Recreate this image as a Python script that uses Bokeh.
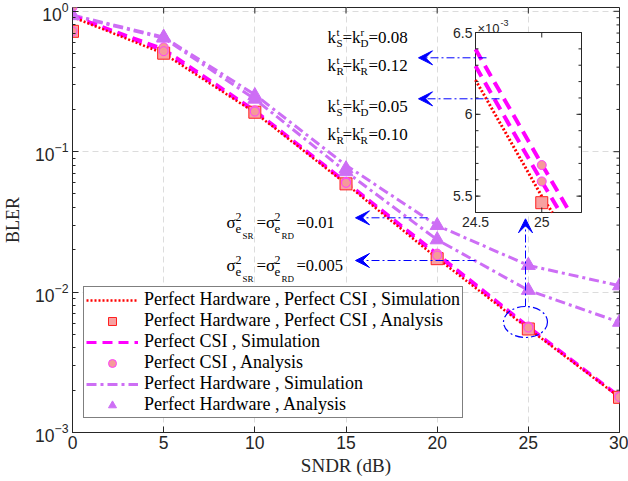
import math
from bokeh.plotting import figure
from bokeh.models import (FixedTicker, Legend, LegendItem, Label, Arrow, VeeHead,
                          Range1d, LinearScale)
from bokeh.embed import file_html
from bokeh.resources import INLINE

# ---------------- data ----------------
snr = [0, 5, 10, 15, 20, 25, 30]
x_ticks = [0, 5, 10, 15, 20, 25, 30]
y_ticks = [1e-3, 1e-2, 1e-1, 1]

sim_ph_pcsi = [0.91, 0.50, 0.19, 0.059, 0.0174, 0.0055, 0.00178]
ana_ph_pcsi = [0.72, 0.503, 0.191, 0.059, 0.0173, 0.00546, 0.00178]

sim_pcsi_k08 = [0.93, 0.54, 0.197, 0.061, 0.0188, 0.005695, 0.00181]
sim_pcsi_k05 = [0.92, 0.52, 0.193, 0.060, 0.0182, 0.00559, 0.00179]
ana_pcsi_k08 = [1.07, 0.555, 0.197, 0.061, 0.0188, 0.00569, 0.00181]
ana_pcsi_k05 = [0.72, 0.52, 0.193, 0.060, 0.0182, 0.00559, 0.00179]

sim_ph_s01 = [0.94, 0.655, 0.255, 0.080, 0.0298, 0.0155, 0.0111]
sim_ph_s005 = [0.93, 0.645, 0.237, 0.072, 0.0236, 0.0103, 0.0061]
ana_ph_s01 = [0.933, 0.654, 0.251, 0.0756, 0.0298, 0.0155, 0.0111]
ana_ph_s005 = [0.933, 0.645, 0.237, 0.072, 0.0236, 0.0103, 0.0061]

# zoomed-in (inset) simulation around 25 dB
snr_zoom = [24, 25, 26]
zoom_ph_pcsi = [6.92e-3, 5.50e-3, 4.25e-3]
zoom_pcsi_k08 = [7.10e-3, 5.695e-3, 4.31e-3]
zoom_pcsi_k05 = [7.00e-3, 5.59e-3, 4.23e-3]
inset_x_range = (24.5, 25.3)
inset_y_range = (5.4e-3, 6.5e-3)
inset_x_ticks = [24.5, 25]
inset_y_ticks = [5.5e-3, 6.0e-3, 6.5e-3]

labels = ["Perfect Hardware , Perfect CSI , Simulation",
          "Perfect Hardware , Perfect CSI , Analysis",
          "Perfect CSI , Simulation",
          "Perfect CSI , Analysis",
          "Perfect Hardware , Simulation",
          "Perfect Hardware , Analysis"]

# ---------------- styles ----------------
RED = "#FF0000"
MAG = "#FF00FF"
PUR = "#CD6EF5"
SQ_FILL = "#F7A1A1"
CI_FILL = "#F59A9A"
BLUE = "#0000FF"
AX = "#262626"
SERIF = "Liberation Serif"
SANS = "Liberation Sans"

W, H = 628, 481
FL, FR, FT, FB = 72, 619, 7, 432          # frame edges in page px
Y_TOP = 10 ** ((FB - FT) / 140.4 - 3)      # 140.4 px per decade
p = figure(width=W, height=H, x_range=(0, 30), y_range=(1e-3, Y_TOP), y_axis_type="log",
           output_backend="svg", toolbar_location=None,
           min_border_left=FL, min_border_right=W - FR, min_border_top=FT, min_border_bottom=H - FB)
p.background_fill_color = "white"
p.border_fill_color = "white"
p.outline_line_color = AX

LMIN, LMAX = math.log10(1e-3), math.log10(Y_TOP)


def dx(px):
    return (px - FL) / (FR - FL) * 30


def dy(py):
    return 10 ** (LMIN + (FB - py) / (FB - FT) * (LMAX - LMIN))


xticker = FixedTicker(ticks=x_ticks, minor_ticks=[])
yminor = [m * 10.0 ** e for e in (-3, -2, -1) for m in range(2, 10)]
yticker = FixedTicker(ticks=y_ticks, minor_ticks=yminor)

p.xaxis.ticker = xticker
p.yaxis.ticker = yticker
for ax in (p.xaxis[0], p.yaxis[0]):
    ax.axis_line_color = AX
    ax.major_tick_line_color = AX
    ax.minor_tick_line_color = AX
    ax.major_tick_in = 6
    ax.major_tick_out = 0
    ax.minor_tick_in = 3
    ax.minor_tick_out = 0
    ax.major_label_text_font = SANS
    ax.major_label_text_font_size = "17.5px"
    ax.major_label_text_color = AX
    ax.axis_label_text_font = SERIF
    ax.axis_label_text_font_style = "normal"
    ax.axis_label_text_color = AX
p.xaxis.minor_tick_line_color = None
p.xaxis.axis_label = "SNDR (dB)"
p.xaxis.axis_label_text_font_size = "19px"
p.xaxis.major_label_standoff = 3
p.xaxis.axis_label_standoff = 3
p.yaxis.axis_label = "BLER"
p.yaxis.axis_label_text_font_size = "18px"
p.yaxis.major_label_standoff = 4
p.yaxis.axis_label_standoff = 9

p.xgrid.ticker = xticker
p.ygrid.ticker = yticker
for g in (p.xgrid[0], p.ygrid[0]):
    g.grid_line_color = "#DCDCDC"
    g.grid_line_dash = "6 4"
    g.grid_line_width = 1

# box ticks on the top and right edges
tx = 6 * 30 / (FR - FL)
p.segment(x0=x_ticks, y0=[Y_TOP] * len(x_ticks), x1=x_ticks, y1=[dy(FT + 6)] * len(x_ticks),
          line_color=AX, line_width=1)
p.segment(x0=[30] * len(y_ticks), y0=y_ticks, x1=[30 - tx] * len(y_ticks), y1=y_ticks,
          line_color=AX, line_width=1)
p.segment(x0=[30] * len(yminor), y0=yminor, x1=[30 - tx / 2] * len(yminor), y1=yminor,
          line_color=AX, line_width=1)

# ---------------- series ----------------
r_pur1 = p.line(snr, sim_ph_s01, line_color=PUR, line_width=3, line_dash="10 4 3 4")
r_pur2 = p.line(snr, sim_ph_s005, line_color=PUR, line_width=3, line_dash="10 4 3 4")
r_mag1 = p.line(snr, sim_pcsi_k08, line_color=MAG, line_width=3, line_dash="10 6")
r_mag2 = p.line(snr, sim_pcsi_k05, line_color=MAG, line_width=3, line_dash="10 6")
r_red = p.line(snr, sim_ph_pcsi, line_color=RED, line_width=2.5, line_dash="2 2")

r_sq = p.scatter(snr, ana_ph_pcsi, marker="square", size=12, fill_color=SQ_FILL, line_color="#FF2020", line_width=1)
r_ci1 = p.scatter(snr, ana_pcsi_k08, marker="circle", size=9, fill_color=CI_FILL, line_color="#FF40FF", line_width=1)
r_ci2 = p.scatter(snr, ana_pcsi_k05, marker="circle", size=9, fill_color=CI_FILL, line_color="#FF40FF", line_width=1)
r_tr1 = p.scatter(snr, ana_ph_s01, marker="triangle", size=14, fill_color=PUR, line_color=PUR)
r_tr2 = p.scatter(snr, ana_ph_s005, marker="triangle", size=14, fill_color=PUR, line_color=PUR)

# ---------------- inset (drawn in the same frame with its own ranges) ----------------
IL, IR, IT, IB = 475, 581, 32, 212          # inset box on the page (px)
ix0, ix1 = inset_x_range
iy0, iy1 = inset_y_range
sx = (IR - IL) / (ix1 - ix0)
sy = (IB - IT) / (iy1 - iy0)
p.extra_x_ranges = {"ix": Range1d(ix0 - (IL - FL) / sx, ix1 + (FR - IR) / sx)}
p.extra_y_ranges = {"iy": Range1d(iy0 - (FB - IB) / sy, iy1 + (IT - FT) / sy)}
p.extra_y_scales = {"iy": LinearScale()}
IK = dict(x_range_name="ix", y_range_name="iy")

p.quad(left=[ix0], right=[ix1], bottom=[iy0], top=[iy1], fill_color="white", line_color=AX,
       line_width=1, **IK)


def clip_poly(xs, ys):
    ox, oy = [], []
    for i in range(len(xs) - 1):
        ax_, ay_, bx_, by_ = xs[i], ys[i], xs[i + 1], ys[i + 1]
        ddx, ddy = bx_ - ax_, by_ - ay_
        t0, t1, ok = 0.0, 1.0, True
        for pp, qq in ((-ddx, ax_ - ix0), (ddx, ix1 - ax_), (-ddy, ay_ - iy0), (ddy, iy1 - ay_)):
            if pp == 0:
                if qq < 0:
                    ok = False
                    break
            else:
                r = qq / pp
                if pp < 0:
                    t0 = max(t0, r)
                else:
                    t1 = min(t1, r)
        if ok and t0 <= t1:
            s = (ax_ + t0 * ddx, ay_ + t0 * ddy)
            e = (ax_ + t1 * ddx, ay_ + t1 * ddy)
            if not ox or abs(ox[-1] - s[0]) > 1e-9 or abs(oy[-1] - s[1]) > 1e-12:
                if ox:
                    ox.append(float("nan"))
                    oy.append(float("nan"))
                ox.append(s[0])
                oy.append(s[1])
            ox.append(e[0])
            oy.append(e[1])
    return ox, oy


def inside(xs, ys):
    pts = [(a, b) for a, b in zip(xs, ys) if ix0 <= a <= ix1 and iy0 <= b <= iy1]
    return [a for a, _ in pts], [b for _, b in pts]


for arr in (zoom_pcsi_k08, zoom_pcsi_k05):
    cx, cy = clip_poly(snr_zoom, arr)
    p.line(cx, cy, line_color=MAG, line_width=4, line_dash="12 7", **IK)
cx, cy = clip_poly(snr_zoom, zoom_ph_pcsi)
p.line(cx, cy, line_color=RED, line_width=3, line_dash="2 2", **IK)
mx, my = inside(snr, ana_ph_pcsi)
p.scatter(mx, my, marker="square", size=12, fill_color=SQ_FILL, line_color="#FF2020", **IK)
for arr in (ana_pcsi_k08, ana_pcsi_k05):
    mx, my = inside(snr, arr)
    p.scatter(mx, my, marker="circle", size=9, fill_color=CI_FILL, line_color="#FF40FF", **IK)

# inset ticks (inside, on all four sides)
iminor = [iy0 + i * 1e-4 for i in range(12)]
tlx, tly = 5 / sx, 5 / sy
p.segment(x0=[ix0] * 3, y0=inset_y_ticks, x1=[ix0 + tlx] * 3, y1=inset_y_ticks, line_color=AX, **IK)
p.segment(x0=[ix1] * 3, y0=inset_y_ticks, x1=[ix1 - tlx] * 3, y1=inset_y_ticks, line_color=AX, **IK)
p.segment(x0=[ix0] * len(iminor), y0=iminor, x1=[ix0 + tlx * 0.6] * len(iminor), y1=iminor, line_color=AX, **IK)
p.segment(x0=[ix1] * len(iminor), y0=iminor, x1=[ix1 - tlx * 0.6] * len(iminor), y1=iminor, line_color=AX, **IK)
p.segment(x0=inset_x_ticks, y0=[iy0] * 2, x1=inset_x_ticks, y1=[iy0 + tly] * 2, line_color=AX, **IK)
p.segment(x0=inset_x_ticks, y0=[iy1] * 2, x1=inset_x_ticks, y1=[iy1 - tly] * 2, line_color=AX, **IK)

for v in inset_y_ticks:
    p.add_layout(Label(x=ix0 - 3 / sx, y=v, text=f"{v * 1000:g}", text_font=SANS, text_font_size="14px",
                       text_color=AX, text_align="right", text_baseline="middle", **IK))
for v in inset_x_ticks:
    p.add_layout(Label(x=v, y=iy0 - 4 / sy, text=f"{v:g}", text_font=SANS, text_font_size="14px",
                       text_color=AX, text_align="center", text_baseline="top", **IK))

# ---------------- legend ----------------
legend = Legend(items=[
    LegendItem(label=labels[0], renderers=[r_red]),
    LegendItem(label=labels[1], renderers=[r_sq]),
    LegendItem(label=labels[2], renderers=[r_mag1]),
    LegendItem(label=labels[3], renderers=[r_ci1]),
    LegendItem(label=labels[4], renderers=[r_pur1]),
    LegendItem(label=labels[5], renderers=[r_tr1]),
], location=(11, 14), label_text_font=SERIF, label_text_font_size="18px", label_text_color="black",
   glyph_width=52, glyph_height=20, label_height=20, spacing=0, padding=2, margin=0,
   label_standoff=6, border_line_color="black", border_line_width=1,
   background_fill_color="white", background_fill_alpha=1)
try:
    legend.spacing = -2
except Exception:
    legend.spacing = 0
p.add_layout(legend)

# ---------------- annotations ----------------


def put(txt, px, py, size, font=SERIF, color="black"):
    p.add_layout(Label(x=dx(px), y=dy(py), text=txt, text_font=font, text_font_size=f"{size}px",
                       text_color=color, text_baseline="alphabetic", text_align="left"))


def k_line(b, s1, s2, val):
    put("k", 327, b, 17)
    put("t", 336, b - 6, 11)
    put(s1, 336, b + 5, 11)
    put("=k", 342, b, 17)
    put("r", 360, b - 6, 11)
    put(s2, 360, b + 5, 11)
    put("=" + val, 368, b, 17)


k_line(37, "S", "D", "0.08")
k_line(65, "R", "R", "0.12")
k_line(106, "S", "D", "0.05")
k_line(134, "R", "R", "0.10")


def sigma_line(b, val):
    put("\u03c3", 226, b, 17)
    put("2", 235, b - 6, 12)
    put("e", 235, b + 6, 13)
    put("SR", 242, b + 13, 9)
    put("=\u03c3", 256, b, 17)
    put("2", 274, b - 6, 12)
    put("e", 274, b + 6, 13)
    put("RD", 281, b + 13, 9)
    put("=" + val, 296, b, 16.5)


sigma_line(222, "0.01")
sigma_line(265, "0.005")

# multiplier of the inset
put("\u00d710", 477, 28, 13, font=SANS, color=AX)
put("-3", 500, 22, 9, font=SANS, color=AX)

DD = "8 3 2 3"


def arrow(px0, py0, px1, py1):
    p.add_layout(Arrow(end=VeeHead(size=14, fill_color=BLUE, line_color=BLUE),
                       x_start=dx(px0), y_start=dy(py0), x_end=dx(px1), y_end=dy(py1),
                       line_color=BLUE, line_width=1, line_dash=DD))


arrow(486, 57.3, 418, 57.3)
arrow(499, 98.3, 418, 98.3)
arrow(427, 217.3, 355, 217.3)
arrow(475, 260, 355, 260)
arrow(525, 306, 525, 218.3)
p.ellipse(x=[dx(525)], y=[dy(321.5)], width=44, height=31, width_units="screen", height_units="screen",
          fill_alpha=0, line_color=BLUE, line_width=1.2, line_dash=DD)

open("out.html", "w").write(file_html(p, INLINE))
